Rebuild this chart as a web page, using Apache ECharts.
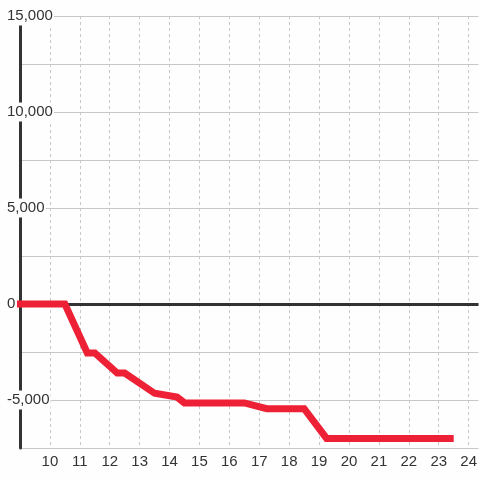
<!DOCTYPE html>
<html>
<head>
<meta charset="utf-8">
<script src="https://cdn.jsdelivr.net/npm/echarts@6/dist/echarts.min.js"></script>
<style>
  html, body { margin: 0; padding: 0; background: #fdfefd; }
  #chart { width: 480px; height: 480px; }
</style>
</head>
<body>
<div id="chart"></div>
<script>
// hour of day -> cumulative value
var hours = [8.9, 10.5, 11.25, 11.5, 12.25, 12.5, 13.5, 14.25, 14.5, 16.5, 17.25, 18.5, 19.25, 23.5];
var values = [0, 0, -2550, -2550, -3600, -3600, -4650, -4850, -5150, -5150, -5450, -5450, -7000, -7000];
var xTicks = [10, 11, 12, 13, 14, 15, 16, 17, 18, 19, 20, 21, 22, 23, 24];
var yTicks = [-5000, 0, 5000, 10000, 15000];

var chart = echarts.init(document.getElementById('chart'));
var option = {
    backgroundColor: '#fdfefd',
    animation: false,
    grid: { left: 20, right: 0, top: 16, bottom: 32 },
    xAxis: {
        type: 'value',
        min: 9,
        max: 24.33,
        interval: 1,
        axisLine: { show: false },
        axisTick: { show: false },
        axisLabel: {
            color: '#333',
            fontSize: 15,
            fontFamily: 'Liberation Sans',
            margin: 6,
            showMaxLabel: false,
            formatter: function (v) {
                return xTicks.indexOf(v) >= 0 ? String(v) : '';
            }
        },
        splitLine: {
            show: true,
            showMaxLine: false,
            lineStyle: { color: '#c8c8c8', type: [3, 3], width: 1 }
        }
    },
    yAxis: {
        type: 'value',
        min: -7500,
        max: 15000,
        interval: 2500,
        axisLine: { show: true, lineStyle: { color: '#333', width: 3 } },
        axisTick: { show: false },
        axisLabel: {
            color: '#333',
            fontSize: 15,
            fontFamily: 'Liberation Sans',
            align: 'left',
            margin: 14,
            backgroundColor: '#fdfefd',
            padding: [4, 1, 0, 1],
            formatter: function (v) {
                return yTicks.indexOf(v) >= 0 ? v.toLocaleString('en-US') : '';
            }
        },
        splitLine: { show: true, lineStyle: { color: '#c8c8c8', width: 1 } }
    },
    series: [
        {
            type: 'line',
            z: 1,
            data: [],
            markLine: {
                silent: true,
                symbol: 'none',
                label: { show: false },
                lineStyle: { color: '#333', width: 3, type: 'solid' },
                data: [{ yAxis: 0 }]
            }
        },
        {
            type: 'line',
            z: 5,
            showSymbol: false,
            clip: false,
            data: hours.map(function (h, i) { return [h, values[i]]; }),
            lineStyle: { color: '#ee2035', width: 7, cap: 'butt', join: 'miter' },
            itemStyle: { color: '#ee2035' }
        }
    ]
};
chart.setOption(option);
window.addEventListener('resize', function () {
    chart.resize();
});
</script>
</body>
</html>
